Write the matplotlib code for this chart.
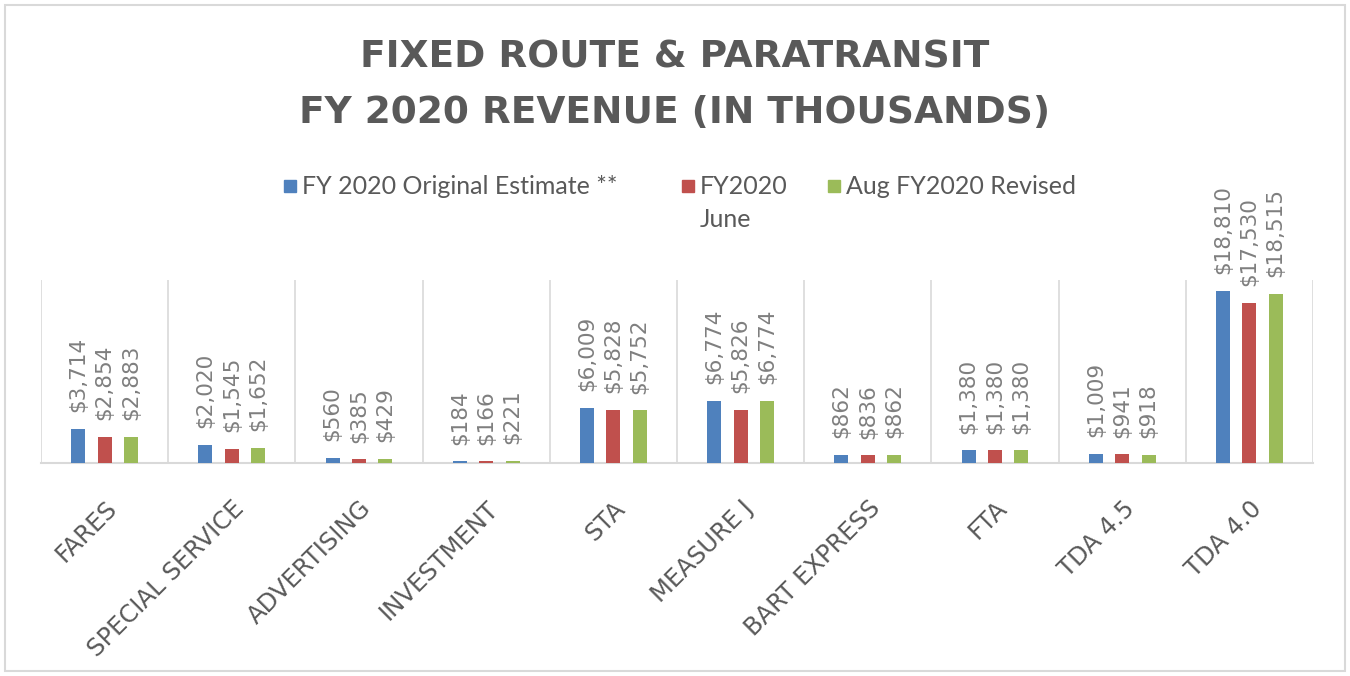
import matplotlib.pyplot as plt
from matplotlib.patches import Rectangle

# Revenue by source, in thousands of dollars
categories = ["FARES", "SPECIAL SERVICE", "ADVERTISING", "INVESTMENT", "STA",
              "MEASURE J", "BART EXPRESS", "FTA", "TDA 4.5", "TDA 4.0"]
original_estimate = [3714, 2020, 560, 184, 6009, 6774, 862, 1380, 1009, 18810]
june_2020 = [2854, 1545, 385, 166, 5828, 5826, 836, 1380, 941, 17530]
aug_revised = [2883, 1652, 429, 221, 5752, 6774, 862, 1380, 918, 18515]

series_names = ["FY 2020 Original Estimate **", "FY2020\nJune", "Aug FY2020 Revised"]
series_values = [original_estimate, june_2020, aug_revised]
colors = ["#4F81BD", "#C0504D", "#9BBB59"]

TEXT = "#595959"
LABEL = "#7f7f7f"
GRID = "#d9d9d9"

plt.rcParams["font.family"] = ["Lato", "DejaVu Sans"]

fig = plt.figure(figsize=(13.5, 6.76), dpi=100)
ax = fig.add_axes([41 / 1350, 1 - 463 / 676, (1313 - 41) / 1350, 183 / 676])

n = len(categories)
offsets = [-0.207, 0.0, 0.207]
width = 0.11
for vals, off, col in zip(series_values, offsets, colors):
    xs = [i + off for i in range(n)]
    ax.bar(xs, vals, width=width, color=col, zorder=3)
    for x, v in zip(xs, vals):
        ax.annotate(f"${v:,}", (x, v), xytext=(0, 12), textcoords="offset points",
                    rotation=90, ha="center", va="bottom", fontsize=15.5,
                    color=LABEL, family="DejaVu Sans", annotation_clip=False)

ax.set_xlim(-0.5, n - 0.5)
ax.set_ylim(0, 20000)
ax.vlines([i - 0.5 for i in range(n + 1)], 0, 20000, color=GRID, linewidth=1.2, zorder=1)
for s in ["top", "left", "right"]:
    ax.spines[s].set_visible(False)
ax.spines["bottom"].set_color(GRID)
ax.spines["bottom"].set_linewidth(1.5)
ax.set_yticks([])
ax.set_xticks(range(n))
ax.set_xticklabels(categories, rotation=45, ha="right", rotation_mode="anchor",
                   fontsize=17.5, color=TEXT, family="DejaVu Sans")
ax.tick_params(axis="x", length=0, pad=24)

# title
fig.text(0.5, 1 - 57 / 676, "FIXED ROUTE & PARATRANSIT", ha="center", va="center",
         fontsize=27, fontweight="bold", color=TEXT, family="DejaVu Sans")
fig.text(0.5, 1 - 113 / 676, "FY 2020 REVENUE (IN THOUSANDS)", ha="center", va="center",
         fontsize=27, fontweight="bold", color=TEXT, family="DejaVu Sans")

# legend drawn by hand so the two-line entry keeps its square on the first line
legend_x = [284, 682, 828]
for lx, name, col in zip(legend_x, series_names, colors):
    fig.patches.append(Rectangle((lx / 1350, 1 - 192 / 676), 12 / 1350, 12 / 676,
                                 transform=fig.transFigure, color=col))
    first, *rest = name.split("\n")
    fig.text((lx + 18) / 1350, 1 - 186 / 676, first, ha="left", va="center",
             fontsize=18, color=TEXT)
    for k, line in enumerate(rest):
        fig.text((lx + 18) / 1350, 1 - (219 + 33 * k) / 676, line, ha="left",
                 va="center", fontsize=18, color=TEXT)

# outer frame
fig.patches.append(Rectangle((5 / 1350, 5 / 676), 1340 / 1350, 666 / 676,
                             transform=fig.transFigure, fill=False,
                             edgecolor=GRID, linewidth=1.5))

fig.savefig("out.png", dpi=100)
